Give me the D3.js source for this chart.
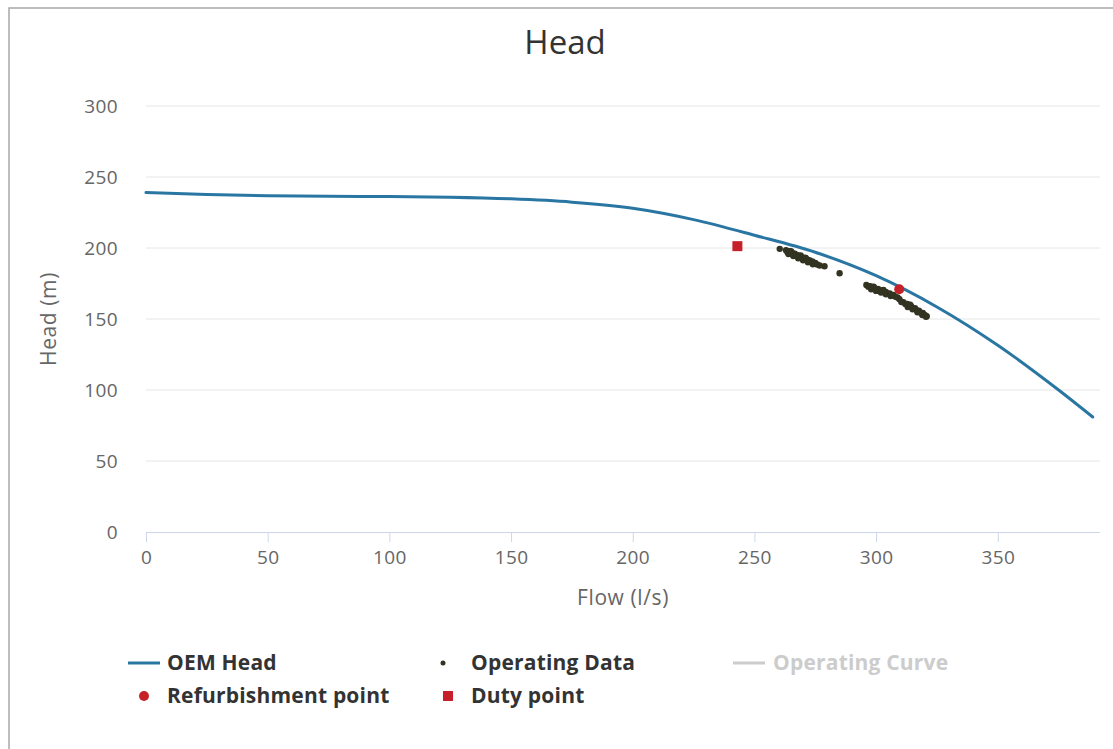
<!DOCTYPE html>
<html>
<head>
<meta charset="utf-8">
<script src="https://cdn.jsdelivr.net/npm/d3@7"></script>
<style>
  html, body { margin: 0; padding: 0; background: #fff; }
  svg { display: block; }
  text { font-family: "Open Sans", "DejaVu Sans", sans-serif; }
</style>
</head>
<body>
<svg id="chart" width="1113" height="749"></svg>
<script>
// ---------- DATA ----------
const title = "Head";
const xAxisTitle = "Flow (l/s)";
const yAxisTitle = "Head (m)";
const xTicks = [0, 50, 100, 150, 200, 250, 300, 350];
const yTicks = [0, 50, 100, 150, 200, 250, 300];

// OEM head curve
const oemFlow = [0, 25, 50, 75, 100, 125, 150, 175, 200, 225, 250, 275, 300, 325, 350, 375, 389];
const oemHead = [239.0, 237.6, 236.8, 236.4, 236.3, 235.8, 234.6, 232.3, 228.0, 220.0, 209.0, 197.0, 180.5, 158.5, 131.5, 100.0, 81.0];

// Operating data (scatter)
const opFlow = [260.4, 263.0, 263.6, 264.2, 264.8, 265.4, 266.0, 266.6, 267.2, 267.8, 268.4, 269.0, 269.6, 270.2, 270.8, 271.4, 272.0, 272.6, 273.2, 273.8, 274.4, 275.0, 275.8, 276.8, 278.8, 285.0,
  264.0, 266.0, 268.0, 270.0, 272.0, 274.0, 265.0, 269.0, 271.0,
  296.0, 296.8, 297.6, 298.4, 299.2, 300.0, 300.8, 301.6, 302.4, 303.2, 304.0, 304.8, 305.6, 306.4, 307.2, 308.0, 308.8, 309.6, 310.4, 311.2, 312.0, 312.8, 313.6, 314.4, 315.2, 316.0, 316.8, 317.6, 318.4, 319.2, 320.0, 320.8,
  298.0, 300.0, 302.0, 304.0, 306.0, 313.0, 315.0, 317.0, 319.0, 320.5, 299.0, 303.0, 314.0];
const opHead = [199.4, 198.4, 197.0, 197.8, 196.1, 196.8, 195.3, 195.9, 194.4, 195.0, 193.6, 194.1, 192.6, 193.2, 191.8, 192.3, 191.0, 191.4, 190.1, 190.5, 189.3, 189.5, 188.4, 187.7, 187.1, 182.2,
  195.7, 194.3, 192.8, 191.3, 189.9, 188.5, 197.7, 194.7, 193.2,
  174.0, 172.7, 173.1, 171.7, 172.1, 170.8, 171.1, 169.8, 170.1, 168.8, 169.1, 167.9, 168.0, 166.8, 167.0, 165.6, 165.1, 163.9, 162.0, 161.9, 160.5, 160.6, 159.0, 159.1, 157.5, 157.6, 156.0, 155.9, 154.4, 154.2, 152.8, 152.0,
  171.0, 169.8, 168.7, 167.4, 166.2, 158.5, 156.9, 154.7, 152.8, 151.5, 172.8, 170.4, 160.1];

// Operating curve (hidden series, legend only)
const opCurveFlow = [];
const opCurveHead = [];

// Single points
const refurbFlow = [309.5];
const refurbHead = [171.0];
const dutyFlow = [243.0];
const dutyHead = [201.3];

const legendItems = [
  { name: "OEM Head", type: "line", color: "#2a76a3", text: "#333" },
  { name: "Operating Data", type: "dot", color: "#333322", text: "#333" },
  { name: "Operating Curve", type: "line", color: "#cccccc", text: "#cccccc" },
  { name: "Refurbishment point", type: "circle", color: "#c62128", text: "#333" },
  { name: "Duty point", type: "square", color: "#c62128", text: "#333" }
];

// ---------- DRAW ----------
const svg = d3.select("#chart");
const plot = { left: 146, right: 1100, top: 106, bottom: 532 };

const x = d3.scaleLinear().domain([0, 392]).range([plot.left, plot.right]);
const y = d3.scaleLinear().domain([0, 300]).range([plot.bottom, plot.top]);

// outer frame (top + left border of container)
svg.append("rect")
  .attr("x", 9).attr("y", 8).attr("width", 1200).attr("height", 900)
  .attr("fill", "none").attr("stroke", "#a8a8a8").attr("stroke-width", 1.5);

// title
svg.append("text")
  .attr("x", 565).attr("y", 54)
  .attr("text-anchor", "middle")
  .attr("font-size", 33)
  .attr("fill", "#333")
  .text(title);

// grid lines
svg.append("g")
  .selectAll("line")
  .data(yTicks.filter(d => d !== 0))
  .join("line")
  .attr("x1", plot.left).attr("x2", plot.right)
  .attr("y1", d => y(d)).attr("y2", d => y(d))
  .attr("stroke", "#e6e6e6").attr("stroke-width", 1);

// y axis (labels only)
const yAxis = d3.axisLeft(y).tickValues(yTicks).tickSize(0).tickPadding(28);
const gy = svg.append("g").attr("transform", `translate(${plot.left},0)`).call(yAxis);
gy.select(".domain").remove();
gy.selectAll("text").attr("font-size", 19).attr("fill", "#666")
  .attr("letter-spacing", 0.4)
  .attr("font-family", "'Open Sans', sans-serif");

// x axis
const xAxis = d3.axisBottom(x).tickValues(xTicks).tickSize(10).tickPadding(9);
const gx = svg.append("g").attr("transform", `translate(0,${plot.bottom})`).call(xAxis);
gx.select(".domain").attr("stroke", "#ccd6eb").attr("d", `M${plot.left},0.5H${plot.right}`);
gx.selectAll(".tick line").attr("stroke", "#ccd6eb");
gx.selectAll("text").attr("font-size", 19).attr("fill", "#666")
  .attr("letter-spacing", 0.4)
  .attr("font-family", "'Open Sans', sans-serif");

// axis titles
svg.append("text")
  .attr("x", 623).attr("y", 605)
  .attr("text-anchor", "middle").attr("font-size", 21).attr("fill", "#666")
  .attr("letter-spacing", 0.6)
  .text(xAxisTitle);
svg.append("text")
  .attr("transform", `translate(56,${(plot.top + plot.bottom) / 2}) rotate(-90)`)
  .attr("text-anchor", "middle").attr("font-size", 21).attr("fill", "#666")
  .attr("letter-spacing", 0.6)
  .text(yAxisTitle);

// OEM curve
const oem = oemFlow.map((f, i) => [f, oemHead[i]]);
svg.append("path")
  .datum(oem)
  .attr("fill", "none")
  .attr("stroke", legendItems[0].color)
  .attr("stroke-width", 3)
  .attr("stroke-linecap", "round")
  .attr("d", d3.line().x(d => x(d[0])).y(d => y(d[1])).curve(d3.curveMonotoneX));

// operating data
const op = opFlow.map((f, i) => [f, opHead[i]]);
svg.append("g")
  .selectAll("circle")
  .data(op)
  .join("circle")
  .attr("cx", d => x(d[0])).attr("cy", d => y(d[1]))
  .attr("r", 3.2)
  .attr("fill", legendItems[1].color);

// duty point
svg.append("g")
  .selectAll("rect")
  .data(dutyFlow.map((f, i) => [f, dutyHead[i]]))
  .join("rect")
  .attr("x", d => x(d[0]) - 5).attr("y", d => y(d[1]) - 5)
  .attr("width", 10).attr("height", 10)
  .attr("fill", legendItems[4].color);

// refurbishment point
svg.append("g")
  .selectAll("circle")
  .data(refurbFlow.map((f, i) => [f, refurbHead[i]]))
  .join("circle")
  .attr("cx", d => x(d[0])).attr("cy", d => y(d[1]))
  .attr("r", 5)
  .attr("fill", legendItems[3].color);

// legend
const legendPos = [
  { x: 128, y: 663 }, { x: 432, y: 663 }, { x: 733, y: 663 },
  { x: 128, y: 696 }, { x: 432, y: 696 }
];
const lg = svg.append("g");
legendItems.forEach((it, i) => {
  const p = legendPos[i];
  const g = lg.append("g").attr("transform", `translate(${p.x},${p.y})`);
  if (it.type === "line") {
    g.append("line").attr("x1", 0).attr("x2", 32).attr("y1", 0).attr("y2", 0)
      .attr("stroke", it.color).attr("stroke-width", 3);
  } else if (it.type === "dot") {
    g.append("circle").attr("cx", 11).attr("cy", 0).attr("r", 2.5).attr("fill", it.color);
  } else if (it.type === "circle") {
    g.append("circle").attr("cx", 16).attr("cy", 0).attr("r", 5).attr("fill", it.color);
  } else if (it.type === "square") {
    g.append("rect").attr("x", 11).attr("y", -5).attr("width", 10).attr("height", 10).attr("fill", it.color);
  }
  g.append("text")
    .attr("x", i === 2 ? 40 : 39)
    .attr("y", 7)
    .attr("font-size", 21).attr("font-weight", "bold")
    .attr("letter-spacing", 0.2)
    .attr("fill", it.text)
    .text(it.name);
});
</script>
</body>
</html>
